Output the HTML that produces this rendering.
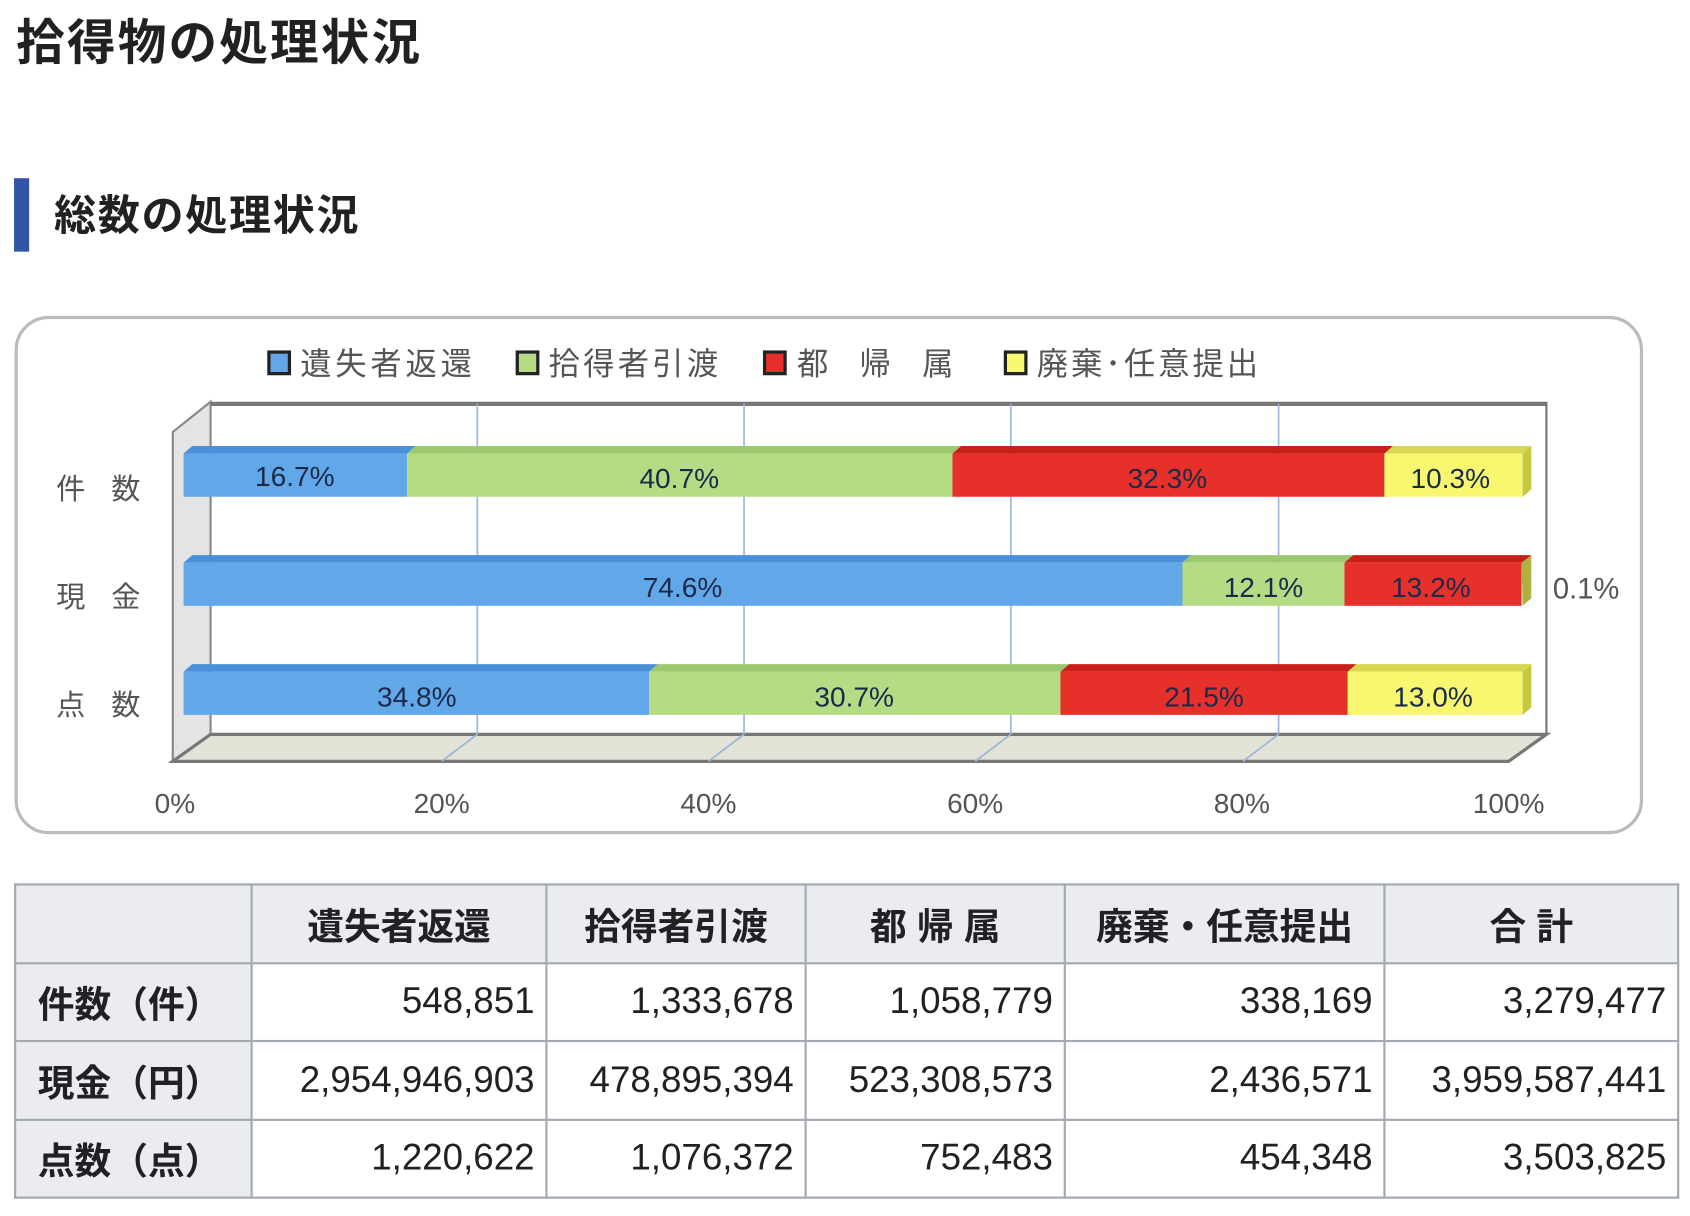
<!DOCTYPE html>
<html><head><meta charset="utf-8"><style>
html,body{margin:0;padding:0;background:#fff;width:1690px;height:1216px;overflow:hidden}
#s{position:absolute;left:0;top:0;width:1565px;height:1126px;transform:scale(1.0799);transform-origin:0 0;font-family:"Liberation Sans","Noto Sans CJK JP",sans-serif;color:#202122}
h1{position:absolute;left:15px;top:10px;margin:0;font-size:45px;letter-spacing:2px;font-weight:bold;line-height:60px;font-family:"Liberation Sans","Noto Sans CJK JP",sans-serif}
.bar{position:absolute;left:13px;top:165px;width:14px;height:68px;background:#3355a8}
h2{position:absolute;left:50px;top:175px;margin:0;font-size:39px;letter-spacing:1.5px;font-weight:bold;line-height:52px}
table{position:absolute;left:13px;top:818px;border-collapse:collapse;font-size:34px}
td,th{border:2px solid #a2a9b1;padding:0 10px;height:72.5px;box-sizing:border-box}
th{background:#eaecf0;font-weight:bold}
td{text-align:right;background:#fff}
td.h{background:#eaecf0;font-weight:bold;text-align:left;padding-left:20px}
</style></head><body><div id="s">
<h1>拾得物の処理状況</h1>
<div class="bar"></div>
<h2>総数の処理状況</h2>
<svg style="position:absolute;left:0;top:0" width="1565" height="800" font-family="Liberation Sans,Noto Sans CJK JP,sans-serif">
<rect x="15" y="294" width="1505" height="477" rx="30" fill="#fff" stroke="#bbb" stroke-width="3"/>
<g font-size="29" fill="#555">
<rect x="249" y="326" width="19" height="20" fill="#62a8e8" stroke="#222" stroke-width="3"/><text x="278" y="347" textLength="159">遺失者返還</text>
<rect x="479" y="326" width="19" height="20" fill="#b5dc84" stroke="#222" stroke-width="3"/><text x="508" y="347" textLength="157">拾得者引渡</text>
<rect x="708" y="326" width="19" height="20" fill="#e8302a" stroke="#222" stroke-width="3"/><text x="738" y="347">都　帰　属</text>
<rect x="931" y="326" width="19" height="20" fill="#f8f870" stroke="#222" stroke-width="3"/><text x="960" y="347" textLength="205">廃棄･任意提出</text>
</g>
<polygon points="160,400 195,372 195,680 160,705" fill="#e4e4e4" stroke="#888" stroke-width="2"/>
<polygon points="160,705 195,680 1432,680 1397,705" fill="#e2e2d6" stroke="#777" stroke-width="3"/>
<line x1="195" y1="374" x2="1432" y2="374" stroke="#777" stroke-width="4"/>
<line x1="1432" y1="372" x2="1432" y2="680" stroke="#777" stroke-width="2"/>
<g stroke="#9ab4dc" stroke-width="1.5">
<line x1="442" y1="374" x2="442" y2="680"/><line x1="689" y1="374" x2="689" y2="680"/><line x1="936" y1="374" x2="936" y2="680"/><line x1="1184" y1="374" x2="1184" y2="680"/>
<line x1="442" y1="680" x2="409" y2="705"/><line x1="689" y1="680" x2="656" y2="705"/><line x1="936" y1="680" x2="903" y2="705"/><line x1="1184" y1="680" x2="1151" y2="705"/>
</g>
<g font-size="27" fill="#555">
<text x="52" y="462">件</text><text x="103" y="462">数</text>
<text x="52" y="562">現</text><text x="103" y="562">金</text>
<text x="52" y="662">点</text><text x="103" y="662">数</text>
<text x="1438" y="554">0.1%</text>
</g>
<g font-size="26" fill="#555" text-anchor="middle">
<text x="162" y="753">0%</text><text x="409" y="753">20%</text><text x="656" y="753">40%</text><text x="903" y="753">60%</text><text x="1150" y="753">80%</text><text x="1397" y="753">100%</text>
</g>
<g font-size="26" fill="#1a2a4a" text-anchor="middle">
<polygon points="170,420 178,413 385,413 377,420" fill="#4a90d8"/><rect x="170" y="420" width="207" height="40" fill="#62a8e8"/>
<polygon points="377,420 385,413 890,413 882,420" fill="#9cc870"/><rect x="377" y="420" width="505" height="40" fill="#b5dc84"/>
<polygon points="882,420 890,413 1290,413 1282,420" fill="#c82018"/><rect x="882" y="420" width="400" height="40" fill="#e8302a"/>
<polygon points="1282,420 1290,413 1418,413 1410,420" fill="#d8d850"/><rect x="1282" y="420" width="128" height="40" fill="#f8f870"/>
<polygon points="1410,420 1418,413 1418,453 1410,460" fill="#c8c840"/>
<text x="273" y="450">16.7%</text><text x="629" y="452">40.7%</text><text x="1081" y="452">32.3%</text><text x="1343" y="452">10.3%</text>
<polygon points="170,521 178,514 1103,514 1095,521" fill="#4a90d8"/><rect x="170" y="521" width="925" height="40" fill="#62a8e8"/>
<polygon points="1095,521 1103,514 1253,514 1245,521" fill="#9cc870"/><rect x="1095" y="521" width="150" height="40" fill="#b5dc84"/>
<polygon points="1245,521 1253,514 1418,514 1410,521" fill="#c82018"/><rect x="1245" y="521" width="164" height="40" fill="#e8302a"/>
<polygon points="1409,521 1418,514 1418,554 1410,561" fill="#b0b040"/>
<text x="632" y="553">74.6%</text><text x="1170" y="553">12.1%</text><text x="1325" y="553">13.2%</text>
<polygon points="170,622 178,615 609,615 601,622" fill="#4a90d8"/><rect x="170" y="622" width="431" height="40" fill="#62a8e8"/>
<polygon points="601,622 609,615 990,615 982,622" fill="#9cc870"/><rect x="601" y="622" width="381" height="40" fill="#b5dc84"/>
<polygon points="982,622 990,615 1256,615 1248,622" fill="#c82018"/><rect x="982" y="622" width="266" height="40" fill="#e8302a"/>
<polygon points="1248,622 1256,615 1418,615 1410,622" fill="#d8d850"/><rect x="1248" y="622" width="162" height="40" fill="#f8f870"/>
<polygon points="1410,622 1418,615 1418,655 1410,662" fill="#c8c840"/>
<text x="386" y="654">34.8%</text><text x="791" y="654">30.7%</text><text x="1115" y="654">21.5%</text><text x="1327" y="654">13.0%</text>
</g>
</svg>
<table>
<tr><th style="width:219px"></th><th style="width:273px">遺失者返還</th><th style="width:240px">拾得者引渡</th><th style="width:240px">都 帰 属</th><th style="width:296px">廃棄・任意提出</th><th style="width:272px">合 計</th></tr>
<tr><td class="h">件数（件）</td><td>548,851</td><td>1,333,678</td><td>1,058,779</td><td>338,169</td><td>3,279,477</td></tr>
<tr><td class="h">現金（円）</td><td>2,954,946,903</td><td>478,895,394</td><td>523,308,573</td><td>2,436,571</td><td>3,959,587,441</td></tr>
<tr><td class="h">点数（点）</td><td>1,220,622</td><td>1,076,372</td><td>752,483</td><td>454,348</td><td>3,503,825</td></tr>
</table>
</div></body></html>
